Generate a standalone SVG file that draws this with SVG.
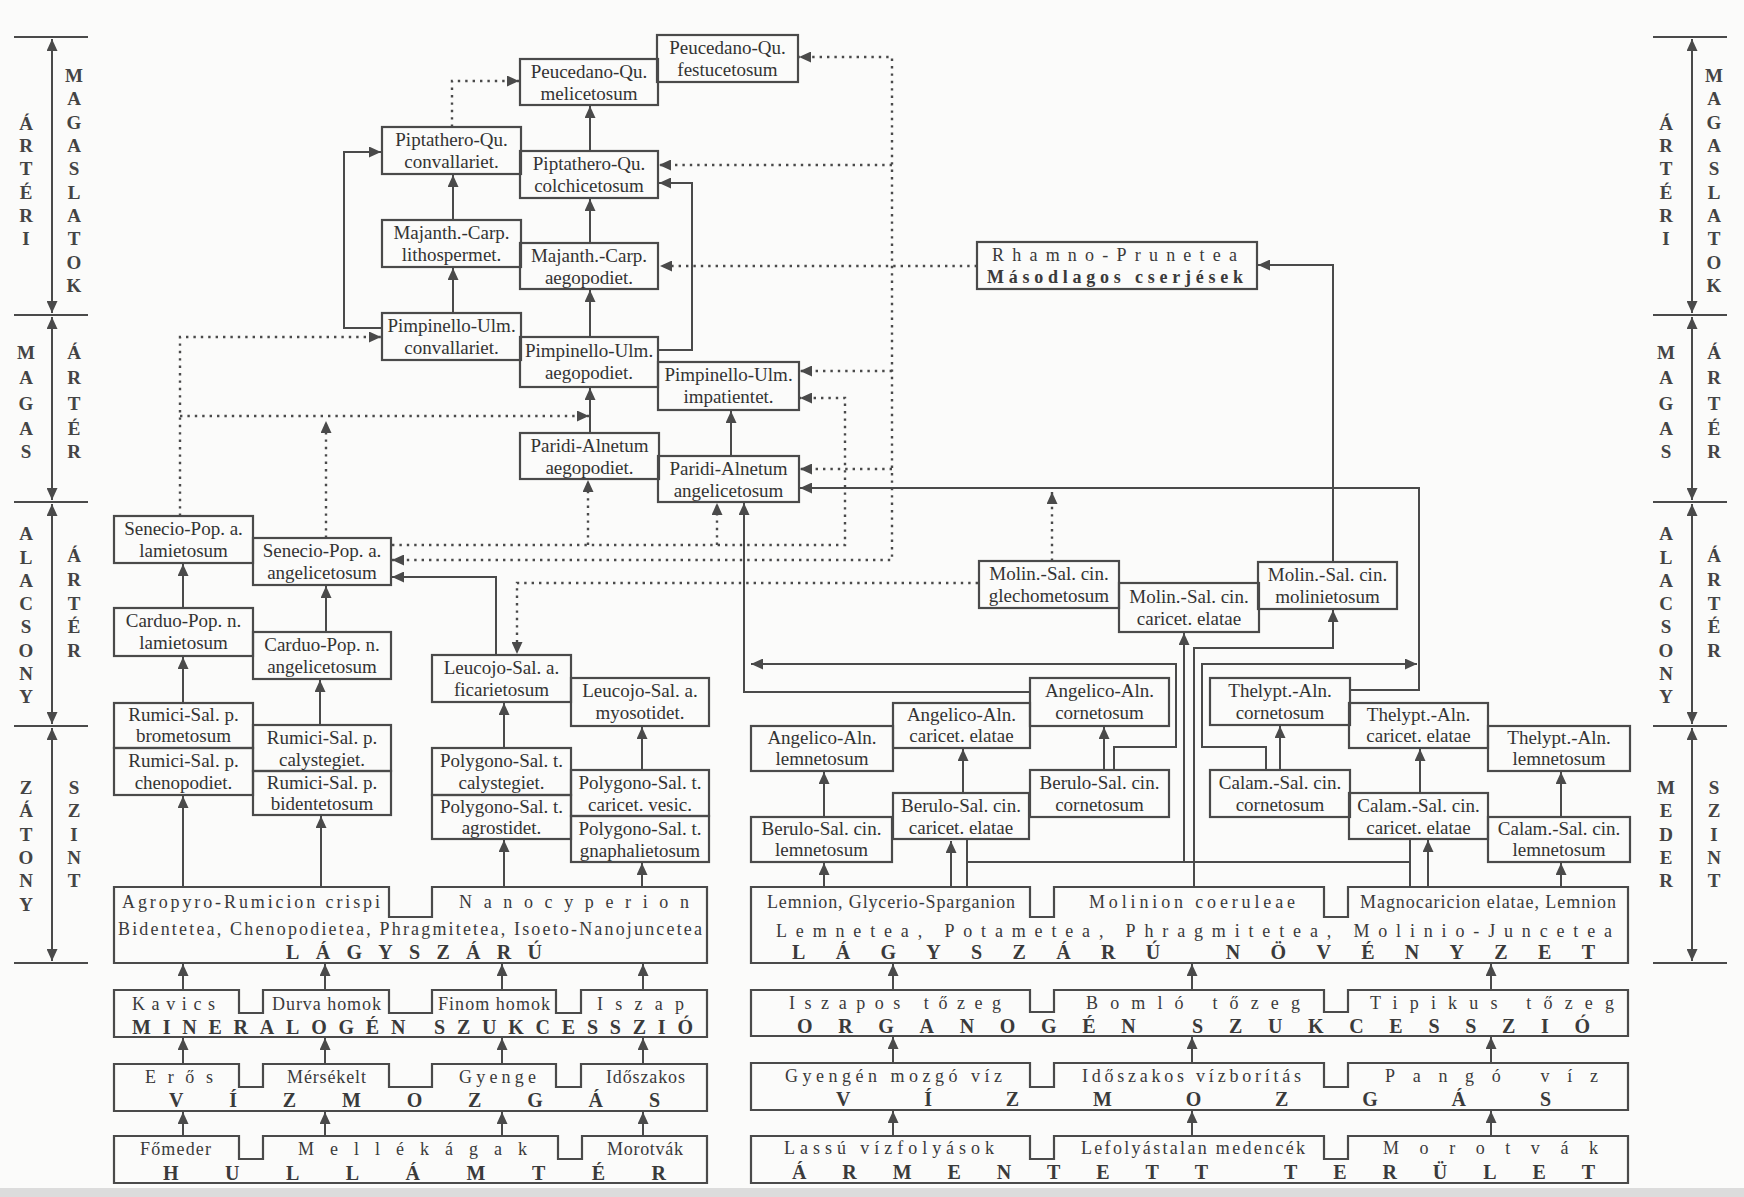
<svg xmlns="http://www.w3.org/2000/svg" width="1744" height="1197" viewBox="0 0 1744 1197">
<defs>
<marker id="ah" markerUnits="userSpaceOnUse" markerWidth="12" markerHeight="11" refX="12" refY="5.5" orient="auto-start-reverse" viewBox="0 0 12 11"><path d="M0,0 L12,5.5 L0,11 Z" fill="#4a4a4a"/></marker>
<style>
.b{fill:none;stroke:#4a4a4a;stroke-width:2.2}
.c{fill:none;stroke:#4a4a4a;stroke-width:2;marker-end:url(#ah)}
.p{fill:none;stroke:#4a4a4a;stroke-width:2}
.d{fill:none;stroke:#4a4a4a;stroke-width:2.4;stroke-dasharray:2.4 5;marker-end:url(#ah)}
.dd{fill:none;stroke:#4a4a4a;stroke-width:2.4;stroke-dasharray:2.4 5;marker-end:url(#ah);marker-start:url(#ah)}
.sc{fill:none;stroke:#4a4a4a;stroke-width:2;marker-end:url(#ah);marker-start:url(#ah)}
.t{font-family:"Liberation Serif",serif;font-size:19px;fill:#333;text-anchor:middle}
.s{font-family:"Liberation Serif",serif;font-size:19px;font-weight:bold;fill:#444;text-anchor:middle}
.q{font-family:"Liberation Serif",serif;font-size:18px;fill:#3a3a3a}
.g{font-family:"Liberation Serif",serif;font-size:20px;font-weight:bold;fill:#3a3a3a}
</style>
</defs>
<rect x="0" y="0" width="1744" height="1197" fill="#fbfbfa"/>
<rect x="0" y="1188" width="1744" height="9" fill="#dcdcdc"/>

<!-- scale bars -->
<g id="scale-left">
<path class="p" d="M14,37 H88 M14,315 H88 M14,502 H88 M14,726 H88 M14,963 H88"/>
<path class="sc" d="M52,39 V313"/><path class="sc" d="M52,317 V500"/><path class="sc" d="M52,504 V724"/><path class="sc" d="M52,728 V961"/>
<text class="s"><tspan x="26" y="130">Á</tspan><tspan x="26" y="152">R</tspan><tspan x="26" y="175">T</tspan><tspan x="26" y="199">É</tspan><tspan x="26" y="222">R</tspan><tspan x="26" y="245">I</tspan></text>
<text class="s"><tspan x="74" y="82">M</tspan><tspan x="74" y="105">A</tspan><tspan x="74" y="129">G</tspan><tspan x="74" y="152">A</tspan><tspan x="74" y="175">S</tspan><tspan x="74" y="199">L</tspan><tspan x="74" y="222">A</tspan><tspan x="74" y="245">T</tspan><tspan x="74" y="269">O</tspan><tspan x="74" y="292">K</tspan></text>
<text class="s"><tspan x="26" y="359">M</tspan><tspan x="26" y="384">A</tspan><tspan x="26" y="410">G</tspan><tspan x="26" y="435">A</tspan><tspan x="26" y="458">S</tspan></text>
<text class="s"><tspan x="74" y="359">Á</tspan><tspan x="74" y="384">R</tspan><tspan x="74" y="410">T</tspan><tspan x="74" y="435">É</tspan><tspan x="74" y="458">R</tspan></text>
<text class="s"><tspan x="26" y="540">A</tspan><tspan x="26" y="564">L</tspan><tspan x="26" y="587">A</tspan><tspan x="26" y="610">C</tspan><tspan x="26" y="633">S</tspan><tspan x="26" y="657">O</tspan><tspan x="26" y="680">N</tspan><tspan x="26" y="703">Y</tspan></text>
<text class="s"><tspan x="74" y="562">Á</tspan><tspan x="74" y="586">R</tspan><tspan x="74" y="610">T</tspan><tspan x="74" y="633">É</tspan><tspan x="74" y="657">R</tspan></text>
<text class="s"><tspan x="26" y="794">Z</tspan><tspan x="26" y="817">Á</tspan><tspan x="26" y="841">T</tspan><tspan x="26" y="864">O</tspan><tspan x="26" y="887">N</tspan><tspan x="26" y="911">Y</tspan></text>
<text class="s"><tspan x="74" y="794">S</tspan><tspan x="74" y="817">Z</tspan><tspan x="74" y="841">I</tspan><tspan x="74" y="864">N</tspan><tspan x="74" y="887">T</tspan></text>
</g>
<g id="scale-right">
<path class="p" d="M1653,37 H1727 M1653,315 H1727 M1653,502 H1727 M1653,726 H1727 M1653,963 H1727"/>
<path class="sc" d="M1692,39 V313"/><path class="sc" d="M1692,317 V500"/><path class="sc" d="M1692,504 V724"/><path class="sc" d="M1692,728 V961"/>
<text class="s"><tspan x="1666" y="130">Á</tspan><tspan x="1666" y="152">R</tspan><tspan x="1666" y="175">T</tspan><tspan x="1666" y="199">É</tspan><tspan x="1666" y="222">R</tspan><tspan x="1666" y="245">I</tspan></text>
<text class="s"><tspan x="1714" y="82">M</tspan><tspan x="1714" y="105">A</tspan><tspan x="1714" y="129">G</tspan><tspan x="1714" y="152">A</tspan><tspan x="1714" y="175">S</tspan><tspan x="1714" y="199">L</tspan><tspan x="1714" y="222">A</tspan><tspan x="1714" y="245">T</tspan><tspan x="1714" y="269">O</tspan><tspan x="1714" y="292">K</tspan></text>
<text class="s"><tspan x="1666" y="359">M</tspan><tspan x="1666" y="384">A</tspan><tspan x="1666" y="410">G</tspan><tspan x="1666" y="435">A</tspan><tspan x="1666" y="458">S</tspan></text>
<text class="s"><tspan x="1714" y="359">Á</tspan><tspan x="1714" y="384">R</tspan><tspan x="1714" y="410">T</tspan><tspan x="1714" y="435">É</tspan><tspan x="1714" y="458">R</tspan></text>
<text class="s"><tspan x="1666" y="540">A</tspan><tspan x="1666" y="564">L</tspan><tspan x="1666" y="587">A</tspan><tspan x="1666" y="610">C</tspan><tspan x="1666" y="633">S</tspan><tspan x="1666" y="657">O</tspan><tspan x="1666" y="680">N</tspan><tspan x="1666" y="703">Y</tspan></text>
<text class="s"><tspan x="1714" y="562">Á</tspan><tspan x="1714" y="586">R</tspan><tspan x="1714" y="610">T</tspan><tspan x="1714" y="633">É</tspan><tspan x="1714" y="657">R</tspan></text>
<text class="s"><tspan x="1666" y="794">M</tspan><tspan x="1666" y="817">E</tspan><tspan x="1666" y="841">D</tspan><tspan x="1666" y="864">E</tspan><tspan x="1666" y="887">R</tspan></text>
<text class="s"><tspan x="1714" y="794">S</tspan><tspan x="1714" y="817">Z</tspan><tspan x="1714" y="841">I</tspan><tspan x="1714" y="864">N</tspan><tspan x="1714" y="887">T</tspan></text>
</g>

<!-- connectors -->
<g id="connectors">
<path class="c" d="M590,151 V106"/>
<path class="c" d="M590,243 V199"/>
<path class="c" d="M590,337 V290"/>
<path class="c" d="M659,350 H692 V183 H659"/>
<path class="c" d="M453,220 V175"/>
<path class="c" d="M453,313 V268"/>
<path class="c" d="M382,328 H344 V152 H381"/>
<path class="c" d="M590,433 V388"/>
<path class="c" d="M731,456 V411"/>
<path class="c" d="M1030,692 H744 V503"/>
<path class="c" d="M1350,690 H1419 V488 H800"/>
<path class="c" d="M1114,770 V747 H1176 V664 H751"/>
<path class="c" d="M1266,770 V747 H1202 V664 H1417"/>
<path class="c" d="M1333,562 V265 H1258"/>
<path class="c" d="M1194,887 V648 H1333 V610"/>
<path class="p" d="M967,840 V887 M967,862 H1410 M1410,840 V887"/>
<path class="c" d="M1184,862 V633"/>
<path class="c" d="M824,817 V772"/><path class="c" d="M963,793 V749"/><path class="c" d="M1104,770 V727"/>
<path class="c" d="M1280,770 V726"/><path class="c" d="M1420,793 V749"/><path class="c" d="M1561,817 V772"/>
<path class="c" d="M824,887 V863"/><path class="c" d="M951,887 V841"/><path class="c" d="M1428,887 V840"/><path class="c" d="M1561,887 V863"/>
<path class="c" d="M183,608 V564"/><path class="c" d="M183,703 V657"/><path class="c" d="M326,632 V586"/><path class="c" d="M320,725 V680"/>
<path class="c" d="M496,655 V577 H392"/><path class="c" d="M504,748 V703"/><path class="c" d="M642,770 V727"/>
<path class="c" d="M183,887 V796"/><path class="c" d="M321,887 V816"/><path class="c" d="M504,887 V840"/><path class="c" d="M642,887 V863"/>
<path class="c" d="M183,990 V964"/><path class="c" d="M325,990 V964"/><path class="c" d="M502,990 V964"/><path class="c" d="M643,990 V964"/>
<path class="c" d="M183,1064 V1038"/><path class="c" d="M325,1064 V1038"/><path class="c" d="M502,1064 V1038"/><path class="c" d="M643,1064 V1038"/>
<path class="c" d="M183,1136 V1112"/><path class="c" d="M325,1136 V1112"/><path class="c" d="M502,1136 V1112"/><path class="c" d="M643,1136 V1112"/>
<path class="c" d="M893,990 V964"/><path class="c" d="M1192,990 V964"/><path class="c" d="M1491,990 V964"/>
<path class="c" d="M893,1063 V1037"/><path class="c" d="M1192,1063 V1037"/><path class="c" d="M1491,1063 V1037"/>
<path class="c" d="M893,1136 V1111"/><path class="c" d="M1192,1136 V1111"/><path class="c" d="M1491,1136 V1111"/>
<!-- dotted -->
<path class="d" d="M452,127 V81 H519"/>
<path class="dd" d="M392,560 H892 V57 H799"/>
<path class="d" d="M892,165 H659"/>
<path class="d" d="M892,371 H800"/>
<path class="d" d="M892,469 H800"/>
<path class="d" d="M392,545 H845 V398 H800"/>
<path class="d" d="M588,545 V480"/>
<path class="d" d="M717,545 V503"/>
<path class="d" d="M978,583 H517 V654"/>
<path class="d" d="M180,516 V337 H381"/>
<path class="d" d="M180,416 H589"/>
<path class="d" d="M326,538 V421"/>
<path class="d" d="M977,266 H660"/>
<path class="d" d="M1052,561 V492"/>
</g>

<!-- top nodes -->
<g id="n-peuc-fest"><rect class="b" x="657" y="35" width="141" height="47"/><text class="t"><tspan x="727.5" y="54">Peucedano-Qu.</tspan><tspan x="727.5" y="76">festucetosum</tspan></text></g>
<g id="n-peuc-meli"><rect class="b" x="520" y="59" width="138" height="46"/><text class="t"><tspan x="589" y="78">Peucedano-Qu.</tspan><tspan x="589" y="100">melicetosum</tspan></text></g>
<g id="n-pipt-conv"><rect class="b" x="382" y="127" width="139" height="47"/><text class="t"><tspan x="451.5" y="146">Piptathero-Qu.</tspan><tspan x="451.5" y="168">convallariet.</tspan></text></g>
<g id="n-pipt-colch"><rect class="b" x="520" y="151" width="138" height="47"/><text class="t"><tspan x="589" y="170">Piptathero-Qu.</tspan><tspan x="589" y="192">colchicetosum</tspan></text></g>
<g id="n-maj-lith"><rect class="b" x="382" y="220" width="139" height="47"/><text class="t"><tspan x="451.5" y="239">Majanth.-Carp.</tspan><tspan x="451.5" y="261">lithospermet.</tspan></text></g>
<g id="n-maj-aeg"><rect class="b" x="520" y="243" width="138" height="46"/><text class="t"><tspan x="589" y="262">Majanth.-Carp.</tspan><tspan x="589" y="284">aegopodiet.</tspan></text></g>
<g id="n-pimp-conv"><rect class="b" x="382" y="313" width="139" height="47"/><text class="t"><tspan x="451.5" y="332">Pimpinello-Ulm.</tspan><tspan x="451.5" y="354">convallariet.</tspan></text></g>
<g id="n-pimp-aeg"><rect class="b" x="520" y="337" width="138" height="50"/><text class="t"><tspan x="589" y="357">Pimpinello-Ulm.</tspan><tspan x="589" y="379">aegopodiet.</tspan></text></g>
<g id="n-pimp-imp"><rect class="b" x="658" y="362" width="141" height="48"/><text class="t"><tspan x="728.5" y="381">Pimpinello-Ulm.</tspan><tspan x="728.5" y="403">impatientet.</tspan></text></g>
<g id="n-parid-aeg"><rect class="b" x="520" y="433" width="139" height="46"/><text class="t"><tspan x="589.5" y="452">Paridi-Alnetum</tspan><tspan x="589.5" y="474">aegopodiet.</tspan></text></g>
<g id="n-parid-ang"><rect class="b" x="658" y="456" width="141" height="46"/><text class="t"><tspan x="728.5" y="475">Paridi-Alnetum</tspan><tspan x="728.5" y="497">angelicetosum</tspan></text></g>
<g id="n-rhamno"><rect class="b" x="977" y="242" width="280" height="47"/><text class="q" x="992" y="261" textLength="245" lengthAdjust="spacing">Rhamno-Prunetea</text><text class="q" x="987" y="283" textLength="256" lengthAdjust="spacing" font-weight="bold">Másodlagos cserjések</text></g>

<!-- left middle nodes -->
<g id="n-sen-lam"><rect class="b" x="114" y="516" width="139" height="47"/><text class="t"><tspan x="183.5" y="535">Senecio-Pop. a.</tspan><tspan x="183.5" y="557">lamietosum</tspan></text></g>
<g id="n-sen-ang"><rect class="b" x="253" y="538" width="138" height="47"/><text class="t"><tspan x="322" y="557">Senecio-Pop. a.</tspan><tspan x="322" y="579">angelicetosum</tspan></text></g>
<g id="n-car-lam"><rect class="b" x="114" y="608" width="139" height="48"/><text class="t"><tspan x="183.5" y="627">Carduo-Pop. n.</tspan><tspan x="183.5" y="649">lamietosum</tspan></text></g>
<g id="n-car-ang"><rect class="b" x="253" y="632" width="138" height="47"/><text class="t"><tspan x="322" y="651">Carduo-Pop. n.</tspan><tspan x="322" y="673">angelicetosum</tspan></text></g>
<g id="n-rum-brom"><rect class="b" x="114" y="703" width="139" height="45"/><text class="t"><tspan x="183.5" y="721">Rumici-Sal. p.</tspan><tspan x="183.5" y="742">brometosum</tspan></text></g>
<g id="n-rum-chen"><rect class="b" x="114" y="748" width="139" height="47"/><text class="t"><tspan x="183.5" y="767">Rumici-Sal. p.</tspan><tspan x="183.5" y="789">chenopodiet.</tspan></text></g>
<g id="n-rum-caly"><rect class="b" x="253" y="725" width="138" height="46"/><text class="t"><tspan x="322" y="744">Rumici-Sal. p.</tspan><tspan x="322" y="766">calystegiet.</tspan></text></g>
<g id="n-rum-bid"><rect class="b" x="253" y="771" width="138" height="44"/><text class="t"><tspan x="322" y="789">Rumici-Sal. p.</tspan><tspan x="322" y="810">bidentetosum</tspan></text></g>
<g id="n-leu-fic"><rect class="b" x="432" y="655" width="139" height="47"/><text class="t"><tspan x="501.5" y="674">Leucojo-Sal. a.</tspan><tspan x="501.5" y="696">ficarietosum</tspan></text></g>
<g id="n-leu-myo"><rect class="b" x="571" y="678" width="138" height="48"/><text class="t"><tspan x="640" y="697">Leucojo-Sal. a.</tspan><tspan x="640" y="719">myosotidet.</tspan></text></g>
<g id="n-pol-caly"><rect class="b" x="432" y="748" width="139" height="47"/><text class="t"><tspan x="501.5" y="767">Polygono-Sal. t.</tspan><tspan x="501.5" y="789">calystegiet.</tspan></text></g>
<g id="n-pol-agro"><rect class="b" x="432" y="795" width="139" height="44"/><text class="t"><tspan x="501.5" y="813">Polygono-Sal. t.</tspan><tspan x="501.5" y="834">agrostidet.</tspan></text></g>
<g id="n-pol-car"><rect class="b" x="571" y="770" width="138" height="46"/><text class="t"><tspan x="640" y="789">Polygono-Sal. t.</tspan><tspan x="640" y="811">caricet. vesic.</tspan></text></g>
<g id="n-pol-gna"><rect class="b" x="571" y="816" width="138" height="46"/><text class="t"><tspan x="640" y="835">Polygono-Sal. t.</tspan><tspan x="640" y="857">gnaphalietosum</tspan></text></g>

<!-- right middle nodes -->
<g id="n-mol-glech"><rect class="b" x="979" y="561" width="140" height="47"/><text class="t"><tspan x="1049" y="580">Molin.-Sal. cin.</tspan><tspan x="1049" y="602">glechometosum</tspan></text></g>
<g id="n-mol-car"><rect class="b" x="1119" y="583" width="140" height="49"/><text class="t"><tspan x="1189" y="603">Molin.-Sal. cin.</tspan><tspan x="1189" y="625">caricet. elatae</tspan></text></g>
<g id="n-mol-mol"><rect class="b" x="1258" y="562" width="139" height="47"/><text class="t"><tspan x="1327.5" y="581">Molin.-Sal. cin.</tspan><tspan x="1327.5" y="603">molinietosum</tspan></text></g>
<g id="n-ang-lem"><rect class="b" x="751" y="726" width="142" height="45"/><text class="t"><tspan x="822" y="744">Angelico-Aln.</tspan><tspan x="822" y="765">lemnetosum</tspan></text></g>
<g id="n-ang-car"><rect class="b" x="893" y="703" width="137" height="45"/><text class="t"><tspan x="961.5" y="721">Angelico-Aln.</tspan><tspan x="961.5" y="742">caricet. elatae</tspan></text></g>
<g id="n-ang-cor"><rect class="b" x="1030" y="678" width="139" height="48"/><text class="t"><tspan x="1099.5" y="697">Angelico-Aln.</tspan><tspan x="1099.5" y="719">cornetosum</tspan></text></g>
<g id="n-ber-lem"><rect class="b" x="751" y="817" width="141" height="45"/><text class="t"><tspan x="821.5" y="835">Berulo-Sal. cin.</tspan><tspan x="821.5" y="856">lemnetosum</tspan></text></g>
<g id="n-ber-car"><rect class="b" x="893" y="793" width="136" height="46"/><text class="t"><tspan x="961" y="812">Berulo-Sal. cin.</tspan><tspan x="961" y="834">caricet. elatae</tspan></text></g>
<g id="n-ber-cor"><rect class="b" x="1030" y="770" width="139" height="47"/><text class="t"><tspan x="1099.5" y="789">Berulo-Sal. cin.</tspan><tspan x="1099.5" y="811">cornetosum</tspan></text></g>
<g id="n-the-cor"><rect class="b" x="1210" y="678" width="140" height="47"/><text class="t"><tspan x="1280" y="697">Thelypt.-Aln.</tspan><tspan x="1280" y="719">cornetosum</tspan></text></g>
<g id="n-the-car"><rect class="b" x="1349" y="703" width="139" height="45"/><text class="t"><tspan x="1418.5" y="721">Thelypt.-Aln.</tspan><tspan x="1418.5" y="742">caricet. elatae</tspan></text></g>
<g id="n-the-lem"><rect class="b" x="1488" y="726" width="142" height="45"/><text class="t"><tspan x="1559" y="744">Thelypt.-Aln.</tspan><tspan x="1559" y="765">lemnetosum</tspan></text></g>
<g id="n-cal-cor"><rect class="b" x="1210" y="770" width="140" height="47"/><text class="t"><tspan x="1280" y="789">Calam.-Sal. cin.</tspan><tspan x="1280" y="811">cornetosum</tspan></text></g>
<g id="n-cal-car"><rect class="b" x="1349" y="793" width="139" height="46"/><text class="t"><tspan x="1418.5" y="812">Calam.-Sal. cin.</tspan><tspan x="1418.5" y="834">caricet. elatae</tspan></text></g>
<g id="n-cal-lem"><rect class="b" x="1488" y="817" width="142" height="45"/><text class="t"><tspan x="1559" y="835">Calam.-Sal. cin.</tspan><tspan x="1559" y="856">lemnetosum</tspan></text></g>

<!-- bottom left boxes -->
<g id="n-lagy-left"><path class="b" d="M114,887 H389 V917 H432 V887 H707 V963 H114 Z"/>
<text class="q" x="122" y="908" textLength="258" lengthAdjust="spacing">Agropyro-Rumicion crispi</text>
<text class="q" x="459" y="908" textLength="230" lengthAdjust="spacing">Nanocyperion</text>
<text class="q" x="118" y="935" textLength="584" lengthAdjust="spacing">Bidentetea, Chenopodietea, Phragmitetea, Isoeto-Nanojuncetea</text>
<text class="g" x="286" y="959" textLength="256" lengthAdjust="spacing">LÁGYSZÁRÚ</text></g>
<g id="n-mineral"><path class="b" d="M114,990 H239 V1013 H263 V990 H389 V1013 H432 V990 H556 V1013 H581 V990 H707 V1037 H114 Z"/>
<text class="q" x="132" y="1010" textLength="83" lengthAdjust="spacing">Kavics</text>
<text class="q" x="272" y="1010" textLength="109" lengthAdjust="spacing">Durva homok</text>
<text class="q" x="438" y="1010" textLength="112" lengthAdjust="spacing">Finom homok</text>
<text class="q" x="597" y="1010" textLength="87" lengthAdjust="spacing">Iszap</text>
<text class="g" x="132" y="1034" textLength="561" lengthAdjust="spacing">MINERALOGÉN SZUKCESSZIÓ</text></g>
<g id="n-viz-left"><path class="b" d="M114,1064 H239 V1087 H263 V1064 H389 V1087 H432 V1064 H556 V1087 H581 V1064 H707 V1111 H114 Z"/>
<text class="q" x="145" y="1083" textLength="68" lengthAdjust="spacing">Erős</text>
<text class="q" x="287" y="1083" textLength="79" lengthAdjust="spacing">Mérsékelt</text>
<text class="q" x="459" y="1083" textLength="77" lengthAdjust="spacing">Gyenge</text>
<text class="q" x="606" y="1083" textLength="79" lengthAdjust="spacing">Időszakos</text>
<text class="g" x="169" y="1107" textLength="491" lengthAdjust="spacing">VÍZMOZGÁS</text></g>
<g id="n-hullam"><path class="b" d="M114,1136 H239 V1159 H263 V1136 H558 V1159 H582 V1136 H707 V1183 H114 Z"/>
<text class="q" x="140" y="1155" textLength="71" lengthAdjust="spacing">Főmeder</text>
<text class="q" x="298" y="1155" textLength="229" lengthAdjust="spacing">Mellékágak</text>
<text class="q" x="607" y="1155" textLength="76" lengthAdjust="spacing">Morotvák</text>
<text class="g" x="163" y="1180" textLength="503" lengthAdjust="spacing">HULLÁMTÉR</text></g>

<!-- bottom right boxes -->
<g id="n-lagy-right"><path class="b" d="M751,887 H1030 V917 H1054 V887 H1324 V917 H1348 V887 H1628 V963 H751 Z"/>
<text class="q" x="767" y="908" textLength="248" lengthAdjust="spacing">Lemnion, Glycerio-Sparganion</text>
<text class="q" x="1089" y="908" textLength="206" lengthAdjust="spacing">Molinion coeruleae</text>
<text class="q" x="1360" y="908" textLength="256" lengthAdjust="spacing">Magnocaricion elatae, Lemnion</text>
<text class="q" x="776" y="937" textLength="836" lengthAdjust="spacing">Lemnetea, Potametea, Phragmitetea, Molinio-Juncetea</text>
<text class="g" x="792" y="959" textLength="803" lengthAdjust="spacing">LÁGYSZÁRÚ NÖVÉNYZET</text></g>
<g id="n-organo"><path class="b" d="M751,990 H1030 V1012 H1054 V990 H1324 V1012 H1348 V990 H1628 V1036 H751 Z"/>
<text class="q" x="789" y="1009" textLength="212" lengthAdjust="spacing">Iszapos tőzeg</text>
<text class="q" x="1086" y="1009" textLength="214" lengthAdjust="spacing">Bomló tőzeg</text>
<text class="q" x="1370" y="1009" textLength="244" lengthAdjust="spacing">Tipikus tőzeg</text>
<text class="g" x="797" y="1033" textLength="793" lengthAdjust="spacing">ORGANOGÉN SZUKCESSZIÓ</text></g>
<g id="n-viz-right"><path class="b" d="M751,1063 H1030 V1087 H1054 V1063 H1324 V1087 H1348 V1063 H1628 V1110 H751 Z"/>
<text class="q" x="785" y="1082" textLength="217" lengthAdjust="spacing">Gyengén mozgó víz</text>
<text class="q" x="1082" y="1082" textLength="219" lengthAdjust="spacing">Időszakos vízborítás</text>
<text class="q" x="1385" y="1082" textLength="213" lengthAdjust="spacing">Pangó víz</text>
<text class="g" x="836" y="1106" textLength="715" lengthAdjust="spacing">VÍZMOZGÁS</text></g>
<g id="n-arment"><path class="b" d="M751,1136 H1030 V1159 H1054 V1136 H1324 V1159 H1348 V1136 H1628 V1183 H751 Z"/>
<text class="q" x="784" y="1154" textLength="210" lengthAdjust="spacing">Lassú vízfolyások</text>
<text class="q" x="1081" y="1154" textLength="224" lengthAdjust="spacing">Lefolyástalan medencék</text>
<text class="q" x="1383" y="1154" textLength="215" lengthAdjust="spacing">Morotvák</text>
<text class="g" x="792" y="1179" textLength="803" lengthAdjust="spacing">ÁRMENTETT TERÜLET</text></g>
</svg>
